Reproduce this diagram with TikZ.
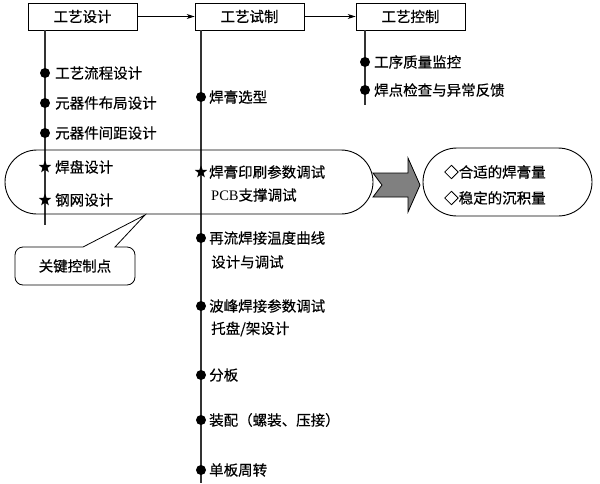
\documentclass[tikz,border=0pt]{standalone}
\usepackage{fontspec}
\setmainfont{Noto Sans CJK SC}[FakeBold=0.4]
\newfontfamily\latserif{Liberation Serif}
\usetikzlibrary{shapes.geometric,arrows.meta}
\begin{document}
\begin{tikzpicture}[x=1pt,y=-1pt,
  line/.style={draw=black!80,line width=1.1pt},
  hbox/.style={draw,line width=0.8pt,minimum width=109pt,minimum height=27pt,inner sep=0pt,font=\fontsize{14.5}{16}\selectfont},
  dot/.style={circle,fill=black,inner sep=0pt,minimum size=10pt},
  starm/.style={star,star points=5,star point ratio=2.4,fill=black,inner sep=0pt,minimum size=13pt},
  lbl/.style={anchor=west,inner sep=0pt,font=\fontsize{14.5}{16}\selectfont},
  flow/.style={-{Stealth[length=8pt,width=5pt]},line width=0.7pt}]
\useasboundingbox (0,0) rectangle (600,483);
% header boxes
\node[hbox] (b1) at (82.5,16.5) {工艺设计};
\node[hbox] (b2) at (249.5,16.5) {工艺试制};
\node[hbox] (b3) at (410.5,16.5) {工艺控制};
\draw[flow] (b1) -- (b2);
\draw[flow] (b2) -- (b3);
% vertical lines
\coordinate (e1) at (45,225);
\coordinate (e2) at (201,483);
\coordinate (e3) at (365,105);
\draw[line] (b1.south -| e1) -- (e1);
\draw[line] (b2.south -| e2) -- (e2);
\draw[line] (b3.south -| e3) -- (e3);
% column 1
\node[dot] (d11) at (45,73) {};
\node[lbl] (t11) at (55,73) {工艺流程设计};
\node[dot] (d12) at (45,103) {};
\node[lbl] (t12) at (55,103) {元器件布局设计};
\node[dot] (d13) at (45,133) {};
\node[lbl] (t13) at (55,133) {元器件间距设计};
\node[starm] (s11) at (45,167) {};
\node[lbl] (t14) at (55,167) {焊盘设计};
\node[starm] (s12) at (45,200) {};
\node[lbl] (t15) at (55,200) {钢网设计};
% column 2
\node[dot] (d21) at (201,97) {};
\node[lbl] (t21) at (209,97) {焊膏选型};
\node[starm] (s21) at (201,172) {};
\node[lbl] (t22) at (209,172) {焊膏印刷参数调试};
\node[lbl] (t23) at (211,195) {{\latserif PCB}支撑调试};
\node[dot] (d22) at (201,238) {};
\node[lbl] (t24) at (209,238) {再流焊接温度曲线};
\node[lbl] (t25) at (211,262) {设计与调试};
\node[dot] (d23) at (201,306) {};
\node[lbl] (t26) at (209,306) {波峰焊接参数调试};
\node[lbl] (t27) at (211,329) {托盘/架设计};
\node[dot] (d24) at (201,375) {};
\node[lbl] (t28) at (209,375) {分板};
\node[dot] (d25) at (201,420) {};
\node[lbl] (t29) at (209,420) {装配（螺装、压接）};
\node[dot] (d26) at (201,470) {};
\node[lbl] (t2a) at (209,470) {单板周转};
% column 3
\node[dot] (d31) at (365,62) {};
\node[lbl] (t31) at (374,62) {工序质量监控};
\node[dot] (d32) at (365,90) {};
\node[lbl] (t32) at (374,90) {焊点检查与异常反馈};
% key capsule
\draw[line width=0.9pt,rounded corners=32pt] (5,150) rectangle (373,214);
% callout
\draw[line width=0.8pt,fill=white] (145,215) -- (83,247) [rounded corners=8pt] -- (15,247) -- (15,285) -- (135,285) -- (135,247) [sharp corners] -- (115,247) -- cycle;
\node[inner sep=0pt,font=\fontsize{14.5}{16}\selectfont] (key) at (75,266) {关键控制点};
% big arrow
\draw[line width=0.8pt,fill=black!50] (373,173) -- (408,173) -- (408,158) -- (420,185) -- (408,212) -- (408,197) -- (373,197) -- (382,185) -- cycle;
% result capsule
\draw[line width=0.9pt,rounded corners=34pt] (423,148) rectangle (592,216);
\node[lbl] (r1) at (444,172) {◇合适的焊膏量};
\node[lbl] (r2) at (444,198) {◇稳定的沉积量};
\end{tikzpicture}
\end{document}
